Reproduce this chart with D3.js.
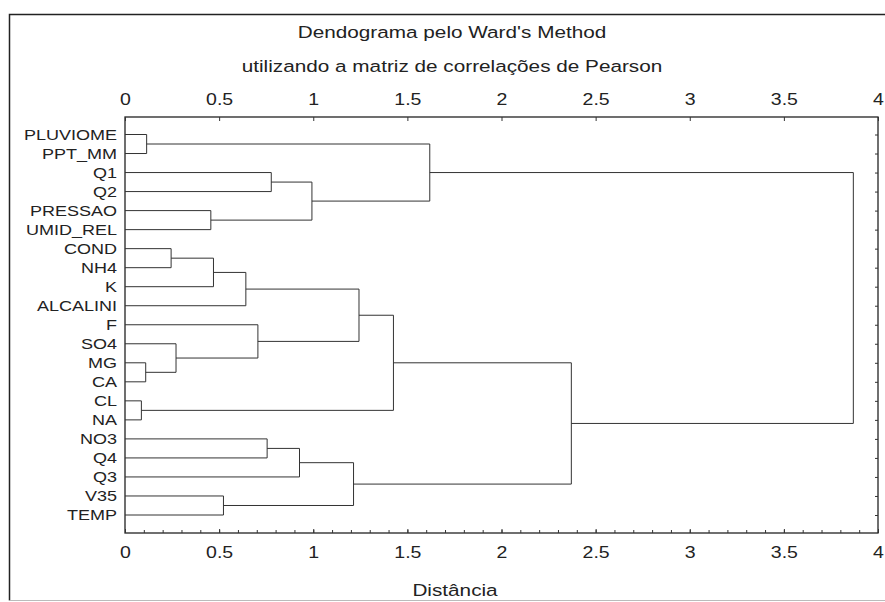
<!DOCTYPE html>
<html>
<head>
<meta charset="utf-8">
<script src="https://cdn.jsdelivr.net/npm/d3@7"></script>
<style>
  body { margin: 0; background: #fff; }
  text { font-family: "Liberation Sans", Arial, sans-serif; fill: #222; }
</style>
</head>
<body>
<div id="chart"></div>
<script>
// leaves, top to bottom
var leaves = ["PLUVIOME", "PPT_MM", "Q1", "Q2", "PRESSAO", "UMID_REL", "COND", "NH4", "K",
  "ALCALINI", "F", "SO4", "MG", "CA", "CL", "NA", "NO3", "Q4", "Q3", "V35", "TEMP"];

// merges: [left, right] -- a leaf name or "m" + index of an earlier merge
var mergePairs = [
  ["PLUVIOME", "PPT_MM"], ["Q1", "Q2"], ["PRESSAO", "UMID_REL"], ["m1", "m2"], ["m0", "m3"],
  ["COND", "NH4"], ["m5", "K"], ["m6", "ALCALINI"], ["MG", "CA"], ["SO4", "m8"],
  ["F", "m9"], ["m7", "m10"], ["CL", "NA"], ["m11", "m12"], ["NO3", "Q4"],
  ["m14", "Q3"], ["V35", "TEMP"], ["m15", "m16"], ["m13", "m17"], ["m4", "m18"]
];
// linkage distance of each merge
var mergeHeights = [0.115, 0.777, 0.456, 0.993, 1.619,
  0.245, 0.47, 0.642, 0.110, 0.271,
  0.706, 1.243, 0.087, 1.426, 0.755,
  0.927, 0.523, 1.214, 2.371, 3.869];

var xMajorTicks = [0, 0.5, 1, 1.5, 2, 2.5, 3, 3.5, 4];
var titleLines = ["Dendograma pelo Ward's Method", "utilizando a matriz de correlações de Pearson"];
var xTitle = "Distância";

var W = 885, H = 602;
var sx = 1.22; // the source picture is stretched horizontally

var svg = d3.select("#chart").append("svg")
  .attr("width", W).attr("height", H);

// outer frame
svg.append("path")
  .attr("d", "M9.5,600.5 L9.5,14.5 L890,14.5")
  .attr("fill", "none").attr("stroke", "#222").attr("stroke-width", 1.5);
svg.append("line")
  .attr("x1", 9.5).attr("x2", 890).attr("y1", 600.5).attr("y2", 600.5)
  .attr("stroke", "#bbb").attr("stroke-width", 1);

var x = d3.scaleLinear().domain([0, 4]).range([125, 878]);
var y = d3.scalePoint().domain(leaves).range([134.5, 515]);

var plotTop = 117, plotBottom = 533;

// titles
svg.selectAll(".title").data(titleLines).enter().append("text")
  .attr("class", "title")
  .attr("text-anchor", "middle")
  .attr("font-size", "17px")
  .attr("transform", function(d, i){ return "translate(452," + (38 + i * 33.5) + ") scale(" + sx + ",1)"; })
  .text(function(d){ return d; });

// plot box
svg.append("rect")
  .attr("x", x(0)).attr("y", plotTop)
  .attr("width", x(4) - x(0)).attr("height", plotBottom - plotTop)
  .attr("fill", "none").attr("stroke", "#222").attr("stroke-width", 1.3);

var fmt = function(d){ return String(+d.toFixed(1)); };

// top axis
var gTop = svg.append("g").attr("transform", "translate(0," + plotTop + ")")
  .call(d3.axisTop(x).tickValues(xMajorTicks).tickSize(-4).tickPadding(12).tickFormat(fmt));
// bottom axis, minor and major ticks
svg.append("g").attr("transform", "translate(0," + plotBottom + ")")
  .call(d3.axisBottom(x).tickValues(d3.range(0, 40).map(function(i){ return i / 10; }))
    .tickSize(-3).tickFormat(""));
var gBot = svg.append("g").attr("transform", "translate(0," + plotBottom + ")")
  .call(d3.axisBottom(x).tickValues(xMajorTicks).tickSize(-4).tickPadding(14).tickFormat(fmt));
// right axis ticks at each leaf
svg.append("g").attr("transform", "translate(" + x(4) + ",0)")
  .call(d3.axisRight(y).tickSize(-3).tickFormat(""));
// left axis: leaf labels
var gLeft = svg.append("g").attr("transform", "translate(" + x(0) + ",0)")
  .call(d3.axisLeft(y).tickSize(0).tickPadding(8));

svg.selectAll(".domain").remove();
svg.selectAll(".tick line").attr("stroke", "#333");
svg.selectAll(".tick text").attr("fill", "#222").attr("font-family", "'Liberation Sans', Arial, sans-serif");
gTop.selectAll("text").attr("font-size", "16px").attr("transform", "scale(" + sx + ",1)");
gBot.selectAll("text").attr("font-size", "16px").attr("transform", "scale(" + sx + ",1)");
gLeft.selectAll("text").attr("font-size", "15px").attr("x", -8 / 1.2).attr("transform", "scale(1.2,1)");

// x axis title
svg.append("text")
  .attr("text-anchor", "middle")
  .attr("font-size", "17px")
  .attr("transform", "translate(455,596) scale(" + sx + ",1)")
  .text(xTitle);

// build node positions from the merges
var nodes = {};
leaves.forEach(function(name){ nodes[name] = { y: y(name), h: 0 }; });
mergePairs.forEach(function(p, i){
  var a = nodes[p[0]], b = nodes[p[1]];
  nodes["m" + i] = { y: (a.y + b.y) / 2, h: mergeHeights[i], a: a, b: b };
});

var links = svg.append("g")
  .attr("fill", "none").attr("stroke", "#333").attr("stroke-width", 1);

mergePairs.forEach(function(p, i){
  var n = nodes["m" + i];
  var path = d3.path();
  path.moveTo(x(n.a.h), n.a.y);
  path.lineTo(x(n.h), n.a.y);
  path.lineTo(x(n.h), n.b.y);
  path.lineTo(x(n.b.h), n.b.y);
  links.append("path").attr("d", path.toString());
});
</script>
</body>
</html>
